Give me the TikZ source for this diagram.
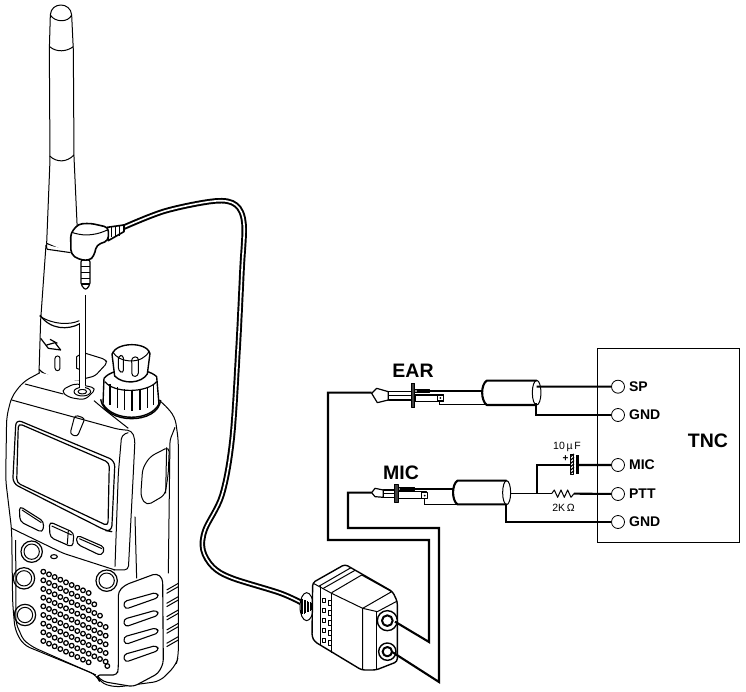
\documentclass[tikz,border=0pt]{standalone}
\usepackage{fontspec}
\setmainfont{Liberation Sans}
\usetikzlibrary{positioning}

\tikzset{
     zoomed/.style={x=0.3333pt,y=-0.3333pt},
     outline/.style={line width=1pt,line join=round},
     wire/.style={line width=2.1pt},
     thinwire/.style={line width=1pt},
     term/.style={draw,circle,line width=.8pt,minimum size=13pt,inner sep=0pt,fill=white},
     termlabel/.style={font=\bfseries\fontsize{14}{14}\selectfont,inner sep=0pt},
     bigtext/.style={font=\bfseries\fontsize{19.5}{19.5}\selectfont,inner sep=0pt},
     smalltext/.style={font=\fontsize{10.5}{10.5}\selectfont,inner sep=0pt}
}

\begin{document}
\begin{tikzpicture}[x=1pt,y=-1pt]
     \useasboundingbox (0,0) rectangle (746,692);

     \begin{scope}[zoomed,outline]
          \draw[fill=white] (140,730) -- (150,480) -- (148,150) -- (151,45)
               .. controls (153,5) and (212,5) .. (215,45)
               -- (220,150) -- (222,470) -- (232,690) -- (232,770) -- cycle;
          \draw (151,45) .. controls (165,68) and (205,68) .. (215,45);
          \draw (149,140) .. controls (170,158) and (200,155) .. (220,140);
          \draw (149,468) .. controls (170,488) and (200,488) .. (222,465);
     \end{scope}

     \begin{scope}[shift={(30,310)},zoomed,outline]
          \fill[white] (148,225) .. controls (110,222) and (50,215) .. (27,190)
               -- (32,30) -- (48,-195) -- (148,-175) -- cycle;
          \draw (48,-195) -- (32,30) -- (27,190) .. controls (50,215) and (110,222) .. (148,225);
          \draw (29,18) .. controls (70,45) and (120,45) .. (148,32);
          \draw[line width=1.2pt] (27,178) .. controls (50,205) and (110,212) .. (148,214);
          \draw[fill=white,rounded corners=2.5pt] (75,138) rectangle (90,182);
          \draw (148,135) -- (140,140) -- (140,175) -- (148,178);
          \draw[line width=1.2pt] (32,85) -- (55,115) -- (92,120) -- (75,98) -- (50,105);
          \draw[line width=1.2pt] (60,88) -- (82,100);
     \end{scope}
     \begin{scope}[zoomed,outline]
          \draw[line width=1.1pt] (141,730) .. controls (138,742) and (140,745) .. (142,748) -- (212,758);
          \draw[line width=1.2pt] (120,945) .. controls (150,990) and (205,990) .. (238,972);
     \end{scope}

     \begin{scope}[shift={(0,340)},zoomed,outline]
          \draw[fill=white,rounded corners=7pt] (120,98) -- (70,125) -- (35,170) -- (20,230)
               -- (17,420) -- (35,570) -- (38,790) -- (45,870) -- (70,915) -- (290,1005)
               -- (300,1028) -- (345,1042) -- (480,1024) -- (528,975) -- (535,950)
               -- (535,300) -- (525,230) -- (490,190) -- (470,175);
          \draw (75,132) -- (190,162);
          \draw (282,182) -- (315,210) -- (385,265);
          \draw[rounded corners=4pt] (35,180) -- (355,268) -- (395,272) -- (405,298) -- (400,400) -- (385,690) -- (340,690);
          \draw[rounded corners=4pt] (385,278) -- (365,285) -- (355,400) -- (345,680);
          \draw[rounded corners=3pt] (35,565) -- (190,640) -- (345,690);
          \draw (405,530) -- (410,715);
          \draw[rounded corners=3pt] (525,262) -- (510,300) -- (505,700);
          \draw[rounded corners=5pt] (508,320) -- (450,350) -- (428,385) -- (422,470) -- (440,497) -- (495,465) -- (505,400) -- cycle;
          \draw (500,322) -- (497,460);
          \draw[rounded corners=3pt] (225,225) -- (255,235) -- (232,290) -- (210,282) -- cycle;
          \draw[line width=1.2pt,rounded corners=6pt] (48,238) -- (345,362) -- (335,575) -- (318,572) -- (38,430) -- cycle;
          \draw[line width=1.2pt,rounded corners=4pt] (55,250) -- (328,368) -- (324,558) -- (50,428) -- cycle;
          \draw[line width=1.1pt,rounded corners=4pt] (58,498) -- (132,545) -- (128,578) -- (60,545) -- cycle;
          \draw (66,510) -- (124,548);
          \draw[line width=1.1pt,rounded corners=4pt] (148,545) -- (222,578) -- (218,622) -- (150,592) -- cycle;
          \draw (155,558) -- (215,585);
          \draw[line width=1.1pt,rounded corners=4pt] (230,585) -- (315,622) -- (305,648) -- (230,612) -- cycle;
          \draw (238,596) -- (306,626);
          \draw (205,572) -- (202,612);
     \end{scope}

     \begin{scope}[shift={(10,540)},zoomed,outline]
          \draw[rounded corners=4pt] (17,0) -- (18,250) -- (40,300) -- (70,322) -- (258,405);
          \foreach \cx/\cy in {65/35,42/115,45/225,290/122} {
               \draw[line width=1.2pt] (\cx,\cy) circle (32);
               \draw (\cx,\cy) circle (23);
          }
          \draw[line width=1.1pt] (132,50) ellipse (10 and 6);
          \foreach \row/\cnt in {0/9,1/10,2/11,3/12,4/12,5/12,6/12,7/12,8/9} {
               \foreach \i in {1,...,\cnt} {
                    \draw[line width=1.25pt] ({100+17*(\i-1)},{95+26*\row+8*(\i-1)}) circle (7);
               }
          }
          \draw[line width=1.25pt] (292,378) circle (7);
          \draw[fill=white,line width=1.1pt,rounded corners=4pt] (325,155) -- (345,135) -- (440,100) -- (458,115)
               -- (460,370) -- (445,400) -- (370,440) -- (280,425) -- (258,405) -- (322,405) -- (325,385) -- cycle;
          \foreach \dy in {0,53,106,159} {
               \draw[line width=1.1pt,rounded corners=3.5pt] (340,185+\dy) -- (440,157+\dy) -- (447,172+\dy) -- (345,208+\dy) -- cycle;
          }
          \foreach \dy in {0,40,80,120,160} {
               \draw (470,150+\dy) -- (505,130+\dy);
               \draw (470,160+\dy) -- (505,140+\dy);
          }
     \end{scope}

     \begin{scope}[shift={(30,310)},zoomed,outline]
          \draw[fill=white,rounded corners=3pt] (167,130) -- (225,148) -- (232,158) -- (195,198) -- (167,205);
          \draw[fill=white,rounded corners=5pt] (92,242) -- (135,220) -- (200,235) -- (165,270) -- (115,262) -- cycle;
          \draw (157,245) ellipse (25 and 13);
          \draw (157,245) ellipse (13 and 7);
          \fill[white] (149,-50) rectangle (166,236);
          \draw (148,40) -- (148,234);
          \draw (167,-45) -- (167,225);

          \draw[fill=white,line width=1.4pt] (222,205) -- (219,282) .. controls (250,335) and (360,335) .. (387,282)
               -- (380,200) .. controls (350,170) and (250,170) .. (222,205);
          \draw[line width=1.2pt] (225,215) .. controls (250,250) and (350,250) .. (380,215);
          \foreach \ribx/\riby in {240/222,262/232,284/238,306/240,330/238,352/232,370/222} {
               \draw[line width=1.6pt] (\ribx,\riby) -- (\ribx,\riby+62);
          }
          \draw[fill=white,line width=1.4pt] (246,132) -- (254,198) .. controls (280,225) and (335,220) .. (352,192)
               -- (360,130) .. controls (350,95) and (260,95) .. (246,132);
          \draw (248,125) .. controls (265,160) and (340,165) .. (358,122);
          \draw[rounded corners=3pt] (265,138) -- (280,135) -- (280,190) -- (265,182) -- cycle;
          \draw[rounded corners=3pt] (305,142) -- (325,140) -- (325,198) -- (306,200) -- cycle;
          \draw[line width=1.4pt] (212,268) .. controls (225,345) and (385,345) .. (392,270);
     \end{scope}

     \draw[line width=5.5pt] plot[smooth,tension=.55] coordinates {(122,228) (165,211) (215,201) (236,205) (244,224) (242,270) (238,350) (232,440) (222,495) (205,530) (203,550) (213,567) (232,578) (280,593) (302,603)};
     \draw[line width=1.6pt,white] plot[smooth,tension=.55] coordinates {(122,228) (165,211) (215,201) (236,205) (244,224) (242,270) (238,350) (232,440) (222,495) (205,530) (203,550) (213,567) (232,578) (280,593) (302,603)};

     \begin{scope}[zoomed,outline]
          \draw[fill=white,line width=1.2pt,rounded corners=2pt] (243,780) -- (270,780) -- (270,855) -- (257,870) -- (243,855) -- cycle;
          \foreach \bandy in {800,818,836,852} {
               \draw[line width=1.3pt] (243,\bandy) -- (270,\bandy);
          }
          \draw[fill=white,line width=1.6pt] (322,682) -- (372,675) -- (372,695) -- (325,722) -- cycle;
          \foreach \ribx/\riby in {335/682,347/681,359/679} {
               \draw[line width=1.4pt] (\ribx,\riby) -- (\ribx,\riby+28);
          }
          \draw[fill=white,line width=1.6pt,rounded corners=4pt] (212,700) -- (235,672) -- (272,670) -- (325,682) -- (325,722)
               -- (290,735) -- (282,768) -- (268,782) -- (235,778) -- (213,762) -- cycle;
          \draw (218,698) .. controls (240,705) and (275,712) .. (322,690);
     \end{scope}

     \begin{scope}[shift={(280,530)},zoomed,outline]
          \draw[fill=white] (80,230) ellipse (20 and 42);
          \foreach \i in {0,...,7} {
               \draw[line width=1pt] (64+\i*4.5,205+\i*2) -- (64+\i*4.5,255-\i*2);
          }
          \draw[fill=white,line width=1.4pt,rounded corners=3pt] (98,158) -- (195,103) -- (338,185) -- (352,215) -- (352,395)
               -- (288,420) -- (245,420) -- (104,335) -- (96,320) -- cycle;
          \draw (118,168) -- (213,113);
          \draw (130,175) -- (225,121);
          \draw (100,160) -- (155,190) -- (248,235) -- (248,418);
          \draw (120,168) -- (120,345);
          \draw (155,188) -- (155,368);
          \draw (155,188) -- (245,135) -- (335,185) -- (248,235);
          \draw (248,235) -- (292,245) -- (352,213);
          \draw (291,245) -- (291,418);
          \foreach \sqy in {205,235,265,295,325} {
               \draw (127,\sqy) rectangle (136,\sqy+14);
               \draw (145,\sqy+8) rectangle (153,\sqy+22);
          }
          \draw[fill=white,line width=1.4pt] (322,272) circle (30);
          \draw[line width=2pt] (322,272) circle (16);
          \draw[fill=white,line width=1.4pt] (322,365) circle (26);
          \draw[line width=2pt] (322,365) circle (14);
          \coordinate (earjack) at (345,275);
          \coordinate (micjack) at (335,365);
     \end{scope}

     \node[draw,line width=1pt,minimum width=142pt,minimum height=194pt,inner sep=0pt] (tncbox) at (668,445) {};
     \node[bigtext] (tnclabel) at (708,441) {TNC};
     \node[term] (sp) at (618,386.7) {};
     \node[term] (gndear) at (618,415) {};
     \node[term] (micin) at (618,465) {};
     \node[term] (ptt) at (618,494) {};
     \node[term] (gndmic) at (618,522) {};
     \node[termlabel,right=4pt of sp] (splabel) {SP};
     \node[termlabel,right=4pt of gndear] (gndearlabel) {GND};
     \node[termlabel,right=4pt of micin] (miclabel) {MIC};
     \node[termlabel,right=4pt of ptt] (pttlabel) {PTT};
     \node[termlabel,right=4pt of gndmic] (gndmiclabel) {GND};
     \node[bigtext] (earlabel) at (413,371) {EAR};
     \node[bigtext] (miclabelb) at (401,473) {MIC};
     \node[smalltext] (caplabel) at (567,447) {10\,µ\,F};
     \node[smalltext] (reslabel) at (563.5,508) {2K\,Ω};
     \node[font=\bfseries\fontsize{10}{10}\selectfont,inner sep=0pt] (plus) at (565.5,459) {+};

     \begin{scope}[shift={(320,340)},zoomed,outline]
          \coordinate (eartip) at (155,158);
          \coordinate (earsig) at (290,153);
          \coordinate (earcylin) at (490,153);
          \coordinate (earsq) at (358,183);
          \coordinate (earcylgnd) at (498,195);
          \coordinate (earhot) at (650,140);
          \coordinate (earcold) at (648,190);
          \coordinate (mictip) at (155,458);
          \coordinate (micsig) at (240,447);
          \coordinate (miccylin) at (402,447);
          \coordinate (micsq) at (314,476);
          \coordinate (miccylgnd) at (427,495);
          \coordinate (michot) at (572,461);
          \coordinate (miccold) at (558,493);
          \coordinate (micjoin) at (652,461);
          \coordinate (capleft) at (750,375);
          \coordinate (capright) at (775,375);
          \coordinate (resleft) at (695,461);
          \coordinate (resright) at (762,461);

          \draw[fill=white,line width=1.2pt] (155,160) -- (170,145) -- (205,155) -- (205,180) -- (172,188) -- cycle;
          \draw[line width=1.2pt] (205,155) rectangle (275,180);
          \draw (205,168) -- (275,168);
          \draw[fill=black!75] (275,130) rectangle (285,203);
          \draw[line width=1.2pt] (285,165) rectangle (370,185);
          \draw[fill=black!40] (285,148) rectangle (330,158);
          \draw[line width=1.2pt,fill=white] (352,165) rectangle (370,183);
          \fill (361,174) circle (3);
          \draw[fill=white,line width=1.2pt] (155,458) -- (165,445) -- (190,450) -- (190,472) -- (165,470) -- cycle;
          \draw[line width=1.2pt] (190,450) rectangle (225,472);
          \draw (190,461) -- (225,461);
          \draw[fill=black!75] (225,433) rectangle (235,487);
          \draw[line width=1.2pt] (235,455) rectangle (320,475);
          \draw[fill=black!40] (235,442) rectangle (285,452);
          \draw[line width=1.2pt,fill=white] (305,458) rectangle (322,476);
          \fill (314,467) circle (3);

          \draw[wire,fill=white] (650,122) -- (500,122) .. controls (482,135) and (482,180) .. (500,195) -- (650,195);
          \draw[line width=1pt] (650,158) ellipse (13 and 37);
          \draw[wire,fill=white] (560,422) -- (412,422) .. controls (395,435) and (395,480) .. (412,493) -- (560,493);
          \draw[line width=1pt] (560,458) ellipse (12 and 36);

          \draw[line width=1pt] (752,345) rectangle (760,403);
          \foreach \hy in {350,360,370,380,390,400} {
               \draw[line width=1.2pt] (752,\hy) -- (762,\hy-8);
          }
          \fill (769,345) rectangle (777,403);
          \draw[thinwire] (resleft) -- (703,450) -- (713,472) -- (723,450) -- (733,472) -- (743,450) -- (753,472) -- (resright);
     \end{scope}

     \coordinate (earcorner) at (328,540);
     \coordinate (earend) at (429,642);
     \coordinate (miccorner) at (348,528);
     \coordinate (micend) at (439,682);

     \draw[wire] (eartip) -| (earcorner) -| (earend) -- (earjack);
     \draw[wire] (mictip) -| (miccorner) -| (micend) -- (micjack);
     \draw[wire] (earsig) -- (earcylin);
     \draw[thinwire] (earsq) |- (earcylgnd);
     \draw[wire] (earhot) -- (sp);
     \draw[wire] (earcold) |- (gndear);
     \draw[wire] (micsig) -- (miccylin);
     \draw[thinwire] (micsq) |- (miccylgnd);
     \draw[thinwire] (michot) -- (resleft);
     \draw[wire] (resright) -- (ptt);
     \draw[wire] (miccold) |- (gndmic);
     \draw[wire] (micjoin) |- (capleft);
     \draw[wire] (capright) -- (micin);
\end{tikzpicture}
\end{document}
